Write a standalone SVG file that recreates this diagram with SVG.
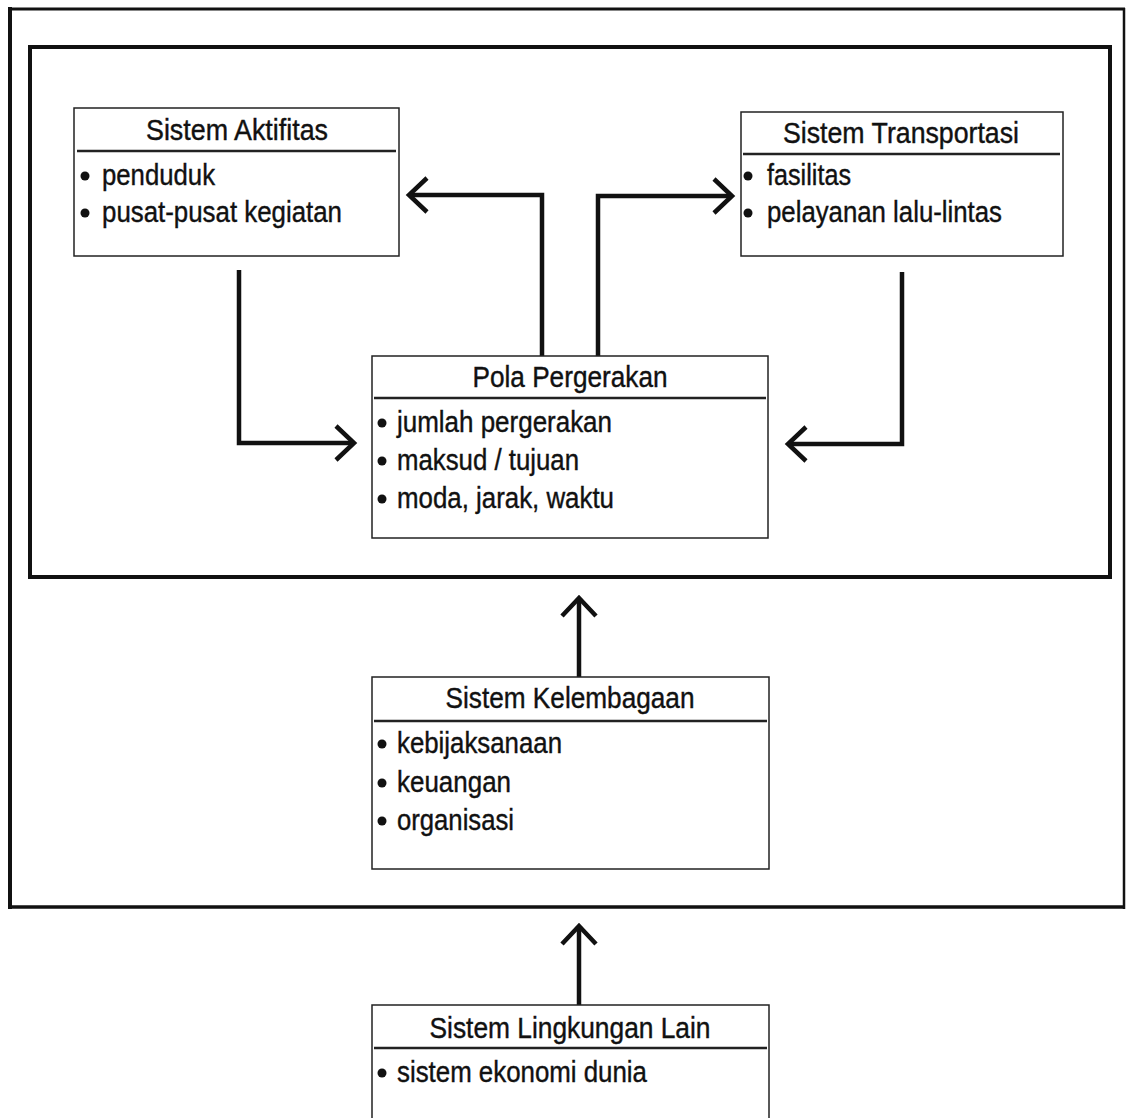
<svg xmlns="http://www.w3.org/2000/svg" width="1128" height="1118" viewBox="0 0 1128 1118">
<style>
.frame{fill:none;stroke:#111}
.box{fill:#fff;stroke:#222;stroke-width:1.5}
.div{stroke:#222;stroke-width:2.5}
.t{font-family:"Liberation Sans",Arial,sans-serif;font-size:29px;fill:#111;stroke:#111;stroke-width:0.4}
.title{text-anchor:middle}
.bul{fill:#111}
.conn{fill:none;stroke:#111;stroke-width:4.5;stroke-linejoin:miter}
</style>
<defs>
<marker id="chev" markerUnits="userSpaceOnUse" markerWidth="44" markerHeight="44" viewBox="-22 -22 44 44" refX="0" refY="0" orient="auto" overflow="visible">
<path d="M-18,-17 L0,0 L-18,17" fill="none" stroke="#111" stroke-width="4.5"/>
</marker>
</defs>
<rect width="1128" height="1118" fill="#fff"/>
<g id="outer-frame">
<line class="frame" x1="8" y1="9" x2="1125" y2="9" stroke-width="3"/>
<line class="frame" x1="10" y1="7" x2="10" y2="909" stroke-width="4"/>
<line class="frame" x1="1124" y1="8" x2="1124" y2="909" stroke-width="2.5"/>
<line class="frame" x1="8" y1="907" x2="1125" y2="907" stroke-width="3.5"/>
</g>
<g id="inner-frame">
<rect class="frame" x="30" y="47" width="1080" height="530" stroke-width="4"/>
</g>
<g id="connectors">
<path class="conn" d="M239 270 V443 H354" marker-end="url(#chev)"/>
<path class="conn" d="M902 272 V444 H788" marker-end="url(#chev)"/>
<path class="conn" d="M542 356 V195 H409" marker-end="url(#chev)"/>
<path class="conn" d="M598 356 V196 H732" marker-end="url(#chev)"/>
<path class="conn" d="M579 677 V598" marker-end="url(#chev)"/>
<path class="conn" d="M579 1005 V926" marker-end="url(#chev)"/>
</g>
<g id="sistem-aktifitas">
<rect class="box" x="74" y="108" width="325" height="148"/>
<line class="div" x1="77" y1="151" x2="396" y2="151"/>
<text class="t title" x="237" y="140" textLength="182" lengthAdjust="spacingAndGlyphs">Sistem Aktifitas</text>
<circle class="bul" cx="85" cy="176" r="4.5"/>
<text class="t" x="102" y="185" textLength="113" lengthAdjust="spacingAndGlyphs">penduduk</text>
<circle class="bul" cx="85" cy="213" r="4.5"/>
<text class="t" x="102" y="222" textLength="240" lengthAdjust="spacingAndGlyphs">pusat-pusat kegiatan</text>
</g>
<g id="sistem-transportasi">
<rect class="box" x="741" y="112" width="322" height="144"/>
<line class="div" x1="743" y1="154" x2="1060" y2="154"/>
<text class="t title" x="901" y="143" textLength="236" lengthAdjust="spacingAndGlyphs">Sistem Transportasi</text>
<circle class="bul" cx="748" cy="176" r="4.5"/>
<text class="t" x="767" y="185" textLength="84" lengthAdjust="spacingAndGlyphs">fasilitas</text>
<circle class="bul" cx="748" cy="213" r="4.5"/>
<text class="t" x="767" y="222" textLength="235" lengthAdjust="spacingAndGlyphs">pelayanan lalu-lintas</text>
</g>
<g id="pola-pergerakan">
<rect class="box" x="372" y="356" width="396" height="182"/>
<line class="div" x1="374" y1="398" x2="766" y2="398"/>
<text class="t title" x="570" y="387" textLength="195" lengthAdjust="spacingAndGlyphs">Pola Pergerakan</text>
<circle class="bul" cx="382" cy="423" r="4.5"/>
<text class="t" x="397" y="432" textLength="215" lengthAdjust="spacingAndGlyphs">jumlah pergerakan</text>
<circle class="bul" cx="382" cy="461" r="4.5"/>
<text class="t" x="397" y="470" textLength="182" lengthAdjust="spacingAndGlyphs">maksud / tujuan</text>
<circle class="bul" cx="382" cy="499" r="4.5"/>
<text class="t" x="397" y="508" textLength="217" lengthAdjust="spacingAndGlyphs">moda, jarak, waktu</text>
</g>
<g id="sistem-kelembagaan">
<rect class="box" x="372" y="677" width="397" height="192"/>
<line class="div" x1="374" y1="721" x2="767" y2="721"/>
<text class="t title" x="570" y="708" textLength="249" lengthAdjust="spacingAndGlyphs">Sistem Kelembagaan</text>
<circle class="bul" cx="382" cy="744" r="4.5"/>
<text class="t" x="397" y="753" textLength="165" lengthAdjust="spacingAndGlyphs">kebijaksanaan</text>
<circle class="bul" cx="382" cy="783" r="4.5"/>
<text class="t" x="397" y="792" textLength="114" lengthAdjust="spacingAndGlyphs">keuangan</text>
<circle class="bul" cx="382" cy="821" r="4.5"/>
<text class="t" x="397" y="830" textLength="117" lengthAdjust="spacingAndGlyphs">organisasi</text>
</g>
<g id="sistem-lingkungan-lain">
<rect class="box" x="372" y="1005" width="397" height="130"/>
<line class="div" x1="374" y1="1048" x2="767" y2="1048"/>
<text class="t title" x="570" y="1038" textLength="281" lengthAdjust="spacingAndGlyphs">Sistem Lingkungan Lain</text>
<circle class="bul" cx="382" cy="1073" r="4.5"/>
<text class="t" x="397" y="1082" textLength="250" lengthAdjust="spacingAndGlyphs">sistem ekonomi dunia</text>
</g>
</svg>
